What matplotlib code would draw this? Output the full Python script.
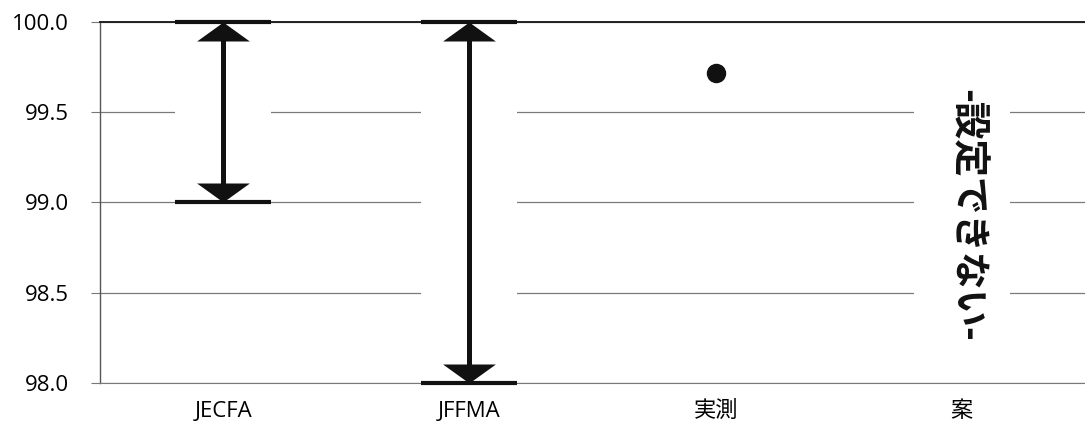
import matplotlib
matplotlib.use('Agg')
import matplotlib.pyplot as plt
from matplotlib.patches import Rectangle

plt.rcParams['font.family'] = ['Open Sans', 'Noto Sans CJK JP', 'DejaVu Sans']

# data
categories = ['JECFA', 'JFFMA', '実測', '案']
range_names = ['JECFA', 'JFFMA']
range_low = [99.0, 98.0]
range_high = [100.0, 100.0]
measured_name = '実測'
measured_value = 99.72
note_name = '案'
note_text = '-設定できない-'
note_y = 98.93
yticks = [98.0, 98.5, 99.0, 99.5, 100.0]

fig = plt.figure(figsize=(10.85, 4.33), dpi=100, facecolor='w')
ax = fig.add_axes([0.0922, 0.1155, 0.9078, 0.8337])
xpos = {c: i for i, c in enumerate(categories)}

ax.set_xlim(-0.5, len(categories) - 0.5)
ax.set_ylim(yticks[0], yticks[-1])
ax.set_yticks(yticks)
ax.set_yticklabels(['%.1f' % v for v in yticks])
ax.set_xticks(range(len(categories)))
ax.set_xticklabels(categories)
ax.tick_params(axis='y', length=9 / 1.389, width=0.8, color='#777777', pad=16, labelsize=16)
ax.tick_params(axis='x', length=0, pad=13, labelsize=16)
ax.set_axisbelow(True)
ax.yaxis.grid(True, color='#7a7a7a', lw=0.9)

ax.spines['right'].set_visible(False)
ax.spines['top'].set_color('#222222')
ax.spines['top'].set_linewidth(1.4)
ax.spines['bottom'].set_color('#7a7a7a')
ax.spines['left'].set_color('#555555')
ax.spines['left'].set_linewidth(1.0)

up_head = [(0, 0), (-1, -0.72), (1, -0.72)]
down_head = [(0, 0), (-1, 0.72), (1, 0.72)]
half = 0.195

for name, lo, hi in zip(range_names, range_low, range_high):
    x = xpos[name]
    # white box that cuts the gridlines, like the original
    ax.add_patch(Rectangle((x - half, lo), 2 * half, hi - lo, facecolor='w',
                           edgecolor='none', zorder=1.5))
    ax.plot([x, x], [lo, hi], color='#111111', lw=3.6, solid_capstyle='butt', zorder=3)
    ax.plot([x], [hi], marker=up_head, markersize=38, color='#111111', mew=0, zorder=4)
    ax.plot([x], [lo], marker=down_head, markersize=38, color='#111111', mew=0, zorder=4)
    ax.hlines([lo, hi], x - half, x + half, colors='#111111', lw=3.0, zorder=5, clip_on=False)

ax.plot([xpos[measured_name]], [measured_value], 'o', color='#111111', markersize=13, zorder=4)

xn = xpos[note_name]
ax.add_patch(Rectangle((xn - half, 98.2), 2 * half, 1.6, facecolor='w',
                       edgecolor='none', zorder=1.5))
ax.text(xn + 0.02, note_y, note_text, rotation=-90, ha='center', va='center',
        fontsize=27, fontweight='bold', family=['Noto Sans CJK JP', 'DejaVu Sans'],
        color='#111111', zorder=4)

fig.savefig('out.png', dpi=100, facecolor='w')
